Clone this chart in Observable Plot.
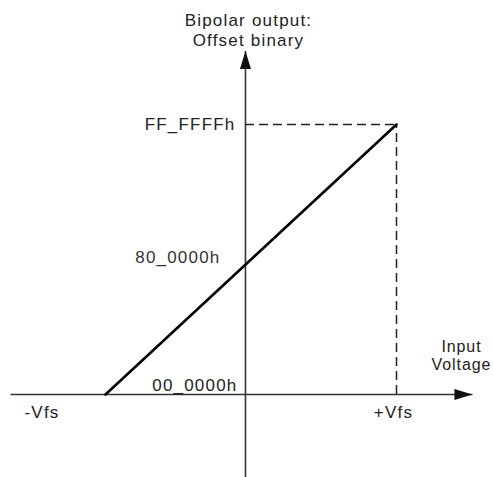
<!DOCTYPE html>
<html>
<head>
<meta charset="utf-8">
<script src="https://cdn.jsdelivr.net/npm/d3@7"></script>
<script src="https://cdn.jsdelivr.net/npm/@observablehq/plot@0.6"></script>
<style>
  html, body { margin: 0; padding: 0; background: #fff; overflow: hidden; }
  #chart svg { overflow: hidden; display: block; }
  #chart svg text { letter-spacing: 1.2px; }
  #chart svg .xtitle text { letter-spacing: 0.9px; font-size: 16px; }
</style>
</head>
<body>
<div id="chart"></div>
<script>
// ---- data ----
const inputVoltage = [-1, 1];                 // -Vfs .. +Vfs
const outputCode   = [0x000000, 0xFFFFFF];    // 00_0000h .. FF_FFFFh
const codeLabels   = ["00_0000h", "80_0000h", "FF_FFFFh"];
const codeValues   = [0x000000, 0x800000, 0xFFFFFF];
const voltLabels   = ["-Vfs", "+Vfs"];
const voltValues   = [-1, 1];
const yAxisTitle   = "Bipolar output:\nOffset binary";
const xAxisTitle   = ["Input", "Voltage"];
const xAxisExtent  = [-1.653, 1.522];         // drawn x-axis span (input units)
const yAxisAt      = -0.038;                  // where the vertical axis crosses
const yAxisExtent  = [-6.0e6, 21.35e6];       // drawn y-axis span (code units)

const ink = "#222";
const font = "'Liberation Sans', Arial, sans-serif";

const arrowUp = {
  draw(ctx) { ctx.moveTo(0, 0); ctx.lineTo(-5.5, 18); ctx.lineTo(5.5, 18); ctx.closePath(); }
};

const line = inputVoltage.map((v, i) => ({x: v, y: outputCode[i]}));
const codes = codeValues.map((v, i) => ({y: v, label: codeLabels[i]}));
const volts = voltValues.map((v, i) => ({x: v, label: voltLabels[i]}));

const plot = Plot.plot({
  width: 493,
  height: 477,
  margin: 0,
  style: {background: "#fff", fontFamily: font, fontSize: "17px", color: ink},
  x: {domain: [-1, 1], range: [105, 396], axis: null},
  y: {domain: [0, 0xFFFFFF], range: [394, 124], axis: null},
  marks: [
    // axes
    Plot.link([{x1: xAxisExtent[0], x2: xAxisExtent[1], y1: 0, y2: 0}], {x1: "x1", x2: "x2", y1: "y1", y2: "y2", stroke: "#333", strokeWidth: 1.6}),
    Plot.link([{x1: yAxisAt, x2: yAxisAt, y1: yAxisExtent[0], y2: yAxisExtent[1]}], {x1: "x1", x2: "x2", y1: "y1", y2: "y2", stroke: "#333", strokeWidth: 1.6}),
    Plot.dot([{x: yAxisAt, y: yAxisExtent[1]}], {x: "x", y: "y", symbol: arrowUp, fill: "#111", stroke: "none", r: 5}),
    Plot.dot([{x: xAxisExtent[1], y: 0}], {x: "x", y: "y", symbol: arrowUp, fill: "#111", stroke: "none", r: 5, rotate: 90}),
    // dashed guides to full scale
    Plot.ruleY([outputCode[1]], {x1: yAxisAt, x2: inputVoltage[1], stroke: ink, strokeWidth: 1.5, strokeDasharray: "9,5"}),
    Plot.ruleX([inputVoltage[1]], {y1: outputCode[0], y2: outputCode[1], stroke: ink, strokeWidth: 1.5, strokeDasharray: "9,5"}),
    // transfer function
    Plot.line(line, {x: "x", y: "y", stroke: "#000", strokeWidth: 2.6}),
    // code labels
    Plot.text([codes[2]], {x: () => yAxisAt, y: "y", text: "label", textAnchor: "end", dx: -10, fill: ink}),
    Plot.text([codes[1]], {x: () => yAxisAt, y: "y", text: "label", textAnchor: "end", dx: -25, dy: -2, fill: "#333"}),
    Plot.text([codes[0]], {x: () => yAxisAt, y: "y", text: "label", textAnchor: "end", dx: -8, dy: -9, fill: ink}),
    // voltage labels
    Plot.text([volts[0]], {x: "x", y: () => 0, text: "label", textAnchor: "start", dx: -81, dy: 18, fill: ink}),
    Plot.text([volts[1]], {x: "x", y: () => 0, text: "label", textAnchor: "middle", dx: -3, dy: 18, fill: ink}),
    // axis titles
    Plot.text([yAxisTitle], {x: () => yAxisAt, y: () => yAxisExtent[1], text: d => d, textAnchor: "middle", lineAnchor: "bottom", lineHeight: 1.15, dx: 3, dy: -5, fill: ink}),
    Plot.text([xAxisTitle[0]], {x: () => xAxisExtent[1], y: () => 0, text: d => d, textAnchor: "middle", dx: -11, dy: -48, fill: ink, className: "xtitle"}),
    Plot.text([xAxisTitle[1]], {x: () => xAxisExtent[1], y: () => 0, text: d => d, textAnchor: "middle", dx: -11, dy: -30, fill: ink, className: "xtitle"})
  ]
});
document.getElementById("chart").appendChild(plot);
</script>
</body>
</html>
